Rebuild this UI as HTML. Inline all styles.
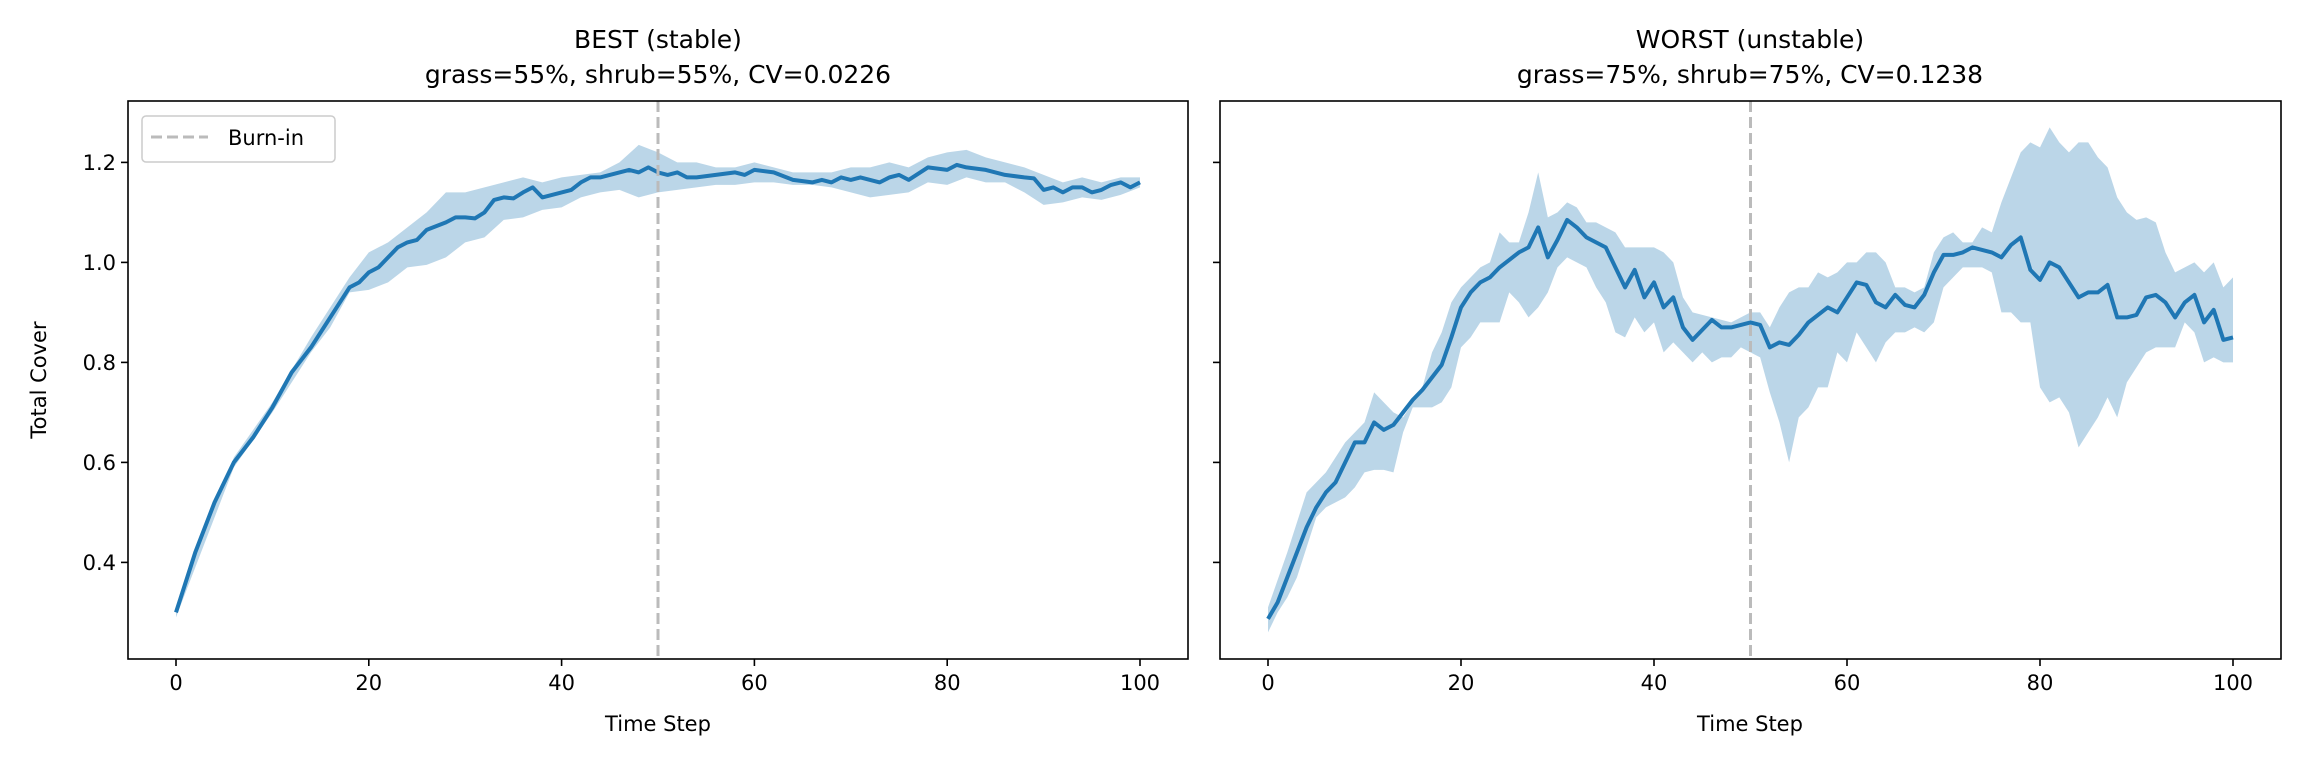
<!DOCTYPE html>
<html><head><meta charset="utf-8"><style>
html,body{margin:0;padding:0;background:#fff}
svg{display:block}
text{font-family:"DejaVu Sans","Liberation Sans",sans-serif;fill:#000}
</style></head><body>
<svg width="2304" height="768" viewBox="0 0 2304 768" xmlns="http://www.w3.org/2000/svg">
<rect width="2304" height="768" fill="#fff"/>
<!-- LEFT -->
<text x="658" y="48" font-size="25" text-anchor="middle">BEST (stable)</text>
<text x="658" y="83" font-size="25" text-anchor="middle">grass=55%, shrub=55%, CV=0.0226</text>
<defs><clipPath id="cl"><rect x="128" y="101" width="1060" height="558"/></clipPath><clipPath id="cr"><rect x="1220" y="101" width="1061" height="558"/></clipPath></defs>
<g clip-path="url(#cl)">
<g transform="matrix(9.64,0,0,-500,176,762.4)">
<polygon fill="#1f77b4" fill-opacity="0.3" points="0,0.31 6,0.61 10,0.72 14,0.85 16,0.91 18,0.97 20,1.02 22,1.04 24,1.07 26,1.10 28,1.14 30,1.14 32,1.15 34,1.16 36,1.17 38,1.16 40,1.17 42,1.175 44,1.18 46,1.2 48,1.235 50,1.22 52,1.20 54,1.2 56,1.19 58,1.19 60,1.2 62,1.19 64,1.18 66,1.18 68,1.18 70,1.19 72,1.19 74,1.2 76,1.19 78,1.21 80,1.22 82,1.225 84,1.21 86,1.2 88,1.19 90,1.175 92,1.16 94,1.17 96,1.16 98,1.17 100,1.17 100,1.15 98,1.135 96,1.125 94,1.13 92,1.12 90,1.115 88,1.14 86,1.16 84,1.16 82,1.17 80,1.155 78,1.16 76,1.14 74,1.135 72,1.13 70,1.14 68,1.15 66,1.155 64,1.155 62,1.16 60,1.16 58,1.155 56,1.155 54,1.15 52,1.145 50,1.14 48,1.13 46,1.145 44,1.14 42,1.13 40,1.11 38,1.105 36,1.09 34,1.085 32,1.05 30,1.04 28,1.01 26,0.995 24,0.99 22,0.96 20,0.945 18,0.94 16,0.87 14,0.82 10,0.70 6,0.59 0,0.29"/>
<polyline fill="none" stroke="#1f77b4" stroke-width="4" vector-effect="non-scaling-stroke" stroke-linejoin="round" points="0,0.30 2,0.42 4,0.52 6,0.60 8,0.65 10,0.71 12,0.78 14,0.83 16,0.89 18,0.95 19,0.96 20,0.98 21,0.99 22,1.01 23,1.03 24,1.04 25,1.045 26,1.065 28,1.08 29,1.09 30,1.09 31,1.088 32,1.10 33,1.125 34,1.13 35,1.128 36,1.14 37,1.15 38,1.13 40,1.14 41,1.145 42,1.16 43,1.17 44,1.17 45,1.175 46,1.18 47,1.185 48,1.18 49,1.19 50,1.18 51,1.175 52,1.18 53,1.17 54,1.17 56,1.175 58,1.18 59,1.175 60,1.185 62,1.18 64,1.165 66,1.16 67,1.165 68,1.16 69,1.17 70,1.165 71,1.17 72,1.165 73,1.16 74,1.17 75,1.175 76,1.165 78,1.19 80,1.185 81,1.195 82,1.19 84,1.185 86,1.175 88,1.17 89,1.168 90,1.145 91,1.15 92,1.14 93,1.15 94,1.15 95,1.14 96,1.145 97,1.155 98,1.16 99,1.15 100,1.16"/>
</g>
<line x1="658" y1="101" x2="658" y2="659" stroke="#bbb" stroke-width="3" stroke-dasharray="11,5"/>
</g>
<rect x="128" y="101" width="1060" height="558" fill="none" stroke="#000" stroke-width="1.6"/>
<g stroke="#000" stroke-width="1.6">
<line x1="121" y1="162.4" x2="128" y2="162.4"/><line x1="121" y1="262.4" x2="128" y2="262.4"/><line x1="121" y1="362.4" x2="128" y2="362.4"/><line x1="121" y1="462.4" x2="128" y2="462.4"/><line x1="121" y1="562.4" x2="128" y2="562.4"/>
<line x1="176" y1="659" x2="176" y2="666"/><line x1="368.8" y1="659" x2="368.8" y2="666"/><line x1="561.6" y1="659" x2="561.6" y2="666"/><line x1="754.4" y1="659" x2="754.4" y2="666"/><line x1="947.2" y1="659" x2="947.2" y2="666"/><line x1="1140" y1="659" x2="1140" y2="666"/>
</g>
<g font-size="21" text-anchor="end">
<text x="116" y="170">1.2</text><text x="116" y="270">1.0</text><text x="116" y="370">0.8</text><text x="116" y="470">0.6</text><text x="116" y="570">0.4</text>
</g>
<g font-size="21" text-anchor="middle">
<text x="176" y="690">0</text><text x="368.8" y="690">20</text><text x="561.6" y="690">40</text><text x="754.4" y="690">60</text><text x="947.2" y="690">80</text><text x="1140" y="690">100</text>
<text x="658" y="731">Time Step</text>
<text transform="translate(46,380) rotate(-90)">Total Cover</text>
</g>
<rect x="142" y="116" width="193" height="46" rx="4" fill="#fff" fill-opacity="0.8" stroke="#ccc" stroke-width="1.5"/>
<line x1="151" y1="137" x2="208" y2="137" stroke="#bbb" stroke-width="3" stroke-dasharray="11,5"/>
<text x="228" y="145" font-size="21">Burn-in</text>

<!-- RIGHT -->
<text x="1750" y="48" font-size="25" text-anchor="middle">WORST (unstable)</text>
<text x="1750" y="83" font-size="25" text-anchor="middle">grass=75%, shrub=75%, CV=0.1238</text>
<g clip-path="url(#cr)">
<g transform="matrix(9.65,0,0,-500,1268,762.4)">
<polygon fill="#1f77b4" fill-opacity="0.3" points="0,0.31 2,0.42 4,0.54 6,0.58 8,0.64 10,0.68 11,0.74 12,0.72 13,0.70 14,0.69 16,0.75 17,0.82 18,0.86 19,0.92 20,0.95 22,0.99 23,1.0 24,1.06 25,1.04 26,1.04 27,1.10 28,1.18 29,1.09 30,1.10 31,1.12 32,1.11 33,1.08 34,1.08 35,1.07 36,1.06 37,1.03 38,1.03 40,1.03 41,1.02 42,1.0 43,0.93 44,0.9 46,0.89 48,0.88 50,0.9 51,0.9 52,0.87 53,0.91 54,0.94 55,0.95 56,0.95 57,0.98 58,0.97 59,0.98 60,1.0 61,1.0 62,1.02 63,1.02 64,1.00 65,0.95 66,0.95 67,0.94 68,0.95 69,1.02 70,1.05 71,1.06 72,1.04 73,1.04 74,1.07 75,1.06 76,1.12 77,1.17 78,1.22 79,1.24 80,1.23 81,1.27 82,1.24 83,1.22 84,1.24 85,1.24 86,1.21 87,1.19 88,1.13 89,1.10 90,1.085 91,1.09 92,1.08 93,1.02 94,0.98 95,0.99 96,1.0 97,0.98 98,1.0 99,0.95 100,0.97 100,0.80 99,0.80 98,0.81 97,0.80 96,0.86 95,0.88 94,0.83 93,0.83 92,0.83 91,0.82 90,0.79 89,0.76 88,0.69 87,0.73 86,0.69 85,0.66 84,0.63 83,0.70 82,0.73 81,0.72 80,0.75 79,0.88 78,0.88 77,0.90 76,0.90 75,0.98 74,0.99 73,0.99 72,0.99 71,0.97 70,0.95 69,0.88 68,0.86 67,0.87 66,0.86 65,0.86 64,0.84 63,0.80 62,0.83 61,0.86 60,0.80 59,0.82 58,0.75 57,0.75 56,0.71 55,0.69 54,0.60 53,0.68 52,0.74 51,0.81 50,0.82 49,0.83 48,0.81 47,0.81 46,0.80 45,0.82 44,0.80 43,0.82 42,0.84 41,0.82 40,0.88 39,0.86 38,0.89 37,0.85 36,0.86 35,0.92 34,0.95 33,0.99 32,1.0 31,1.01 30,0.99 29,0.94 28,0.91 27,0.89 26,0.92 25,0.94 24,0.88 23,0.88 22,0.88 21,0.85 20,0.83 19,0.75 18,0.72 17,0.71 16,0.71 15,0.71 14,0.66 13,0.58 12,0.585 11,0.585 10,0.58 9,0.55 8,0.53 7,0.52 6,0.51 5,0.49 4,0.43 3,0.37 2,0.33 1,0.30 0,0.26"/>
<polyline fill="none" stroke="#1f77b4" stroke-width="4" vector-effect="non-scaling-stroke" stroke-linejoin="round" points="0,0.287 1,0.32 2,0.37 3,0.42 4,0.47 5,0.51 6,0.54 7,0.56 8,0.60 9,0.64 10,0.64 11,0.68 12,0.665 13,0.675 14,0.70 15,0.725 16,0.745 17,0.77 18,0.795 19,0.85 20,0.91 21,0.94 22,0.96 23,0.97 24,0.99 25,1.005 26,1.02 27,1.03 28,1.07 29,1.01 30,1.045 31,1.085 32,1.07 33,1.05 34,1.04 35,1.03 36,0.99 37,0.95 38,0.985 39,0.93 40,0.96 41,0.91 42,0.93 43,0.87 44,0.845 45,0.865 46,0.885 47,0.87 48,0.87 49,0.875 50,0.88 51,0.875 52,0.83 53,0.84 54,0.835 55,0.855 56,0.88 57,0.895 58,0.91 59,0.90 60,0.93 61,0.96 62,0.955 63,0.92 64,0.91 65,0.935 66,0.915 67,0.91 68,0.935 69,0.98 70,1.015 71,1.015 72,1.02 73,1.03 74,1.025 75,1.02 76,1.01 77,1.035 78,1.05 79,0.985 80,0.965 81,1.0 82,0.99 83,0.96 84,0.93 85,0.94 86,0.94 87,0.955 88,0.89 89,0.89 90,0.895 91,0.93 92,0.935 93,0.92 94,0.89 95,0.92 96,0.935 97,0.88 98,0.905 99,0.845 100,0.85"/>
</g>
<line x1="1750.5" y1="101" x2="1750.5" y2="659" stroke="#bbb" stroke-width="3" stroke-dasharray="11,5"/>
</g>
<rect x="1220" y="101" width="1061" height="558" fill="none" stroke="#000" stroke-width="1.6"/>
<g stroke="#000" stroke-width="1.6">
<line x1="1213" y1="162.4" x2="1220" y2="162.4"/><line x1="1213" y1="262.4" x2="1220" y2="262.4"/><line x1="1213" y1="362.4" x2="1220" y2="362.4"/><line x1="1213" y1="462.4" x2="1220" y2="462.4"/><line x1="1213" y1="562.4" x2="1220" y2="562.4"/>
<line x1="1268" y1="659" x2="1268" y2="666"/><line x1="1461" y1="659" x2="1461" y2="666"/><line x1="1654" y1="659" x2="1654" y2="666"/><line x1="1847" y1="659" x2="1847" y2="666"/><line x1="2040" y1="659" x2="2040" y2="666"/><line x1="2233" y1="659" x2="2233" y2="666"/>
</g>
<g font-size="21" text-anchor="middle">
<text x="1268" y="690">0</text><text x="1461" y="690">20</text><text x="1654" y="690">40</text><text x="1847" y="690">60</text><text x="2040" y="690">80</text><text x="2233" y="690">100</text>
<text x="1750" y="731">Time Step</text>
</g>
</svg>
</body></html>
